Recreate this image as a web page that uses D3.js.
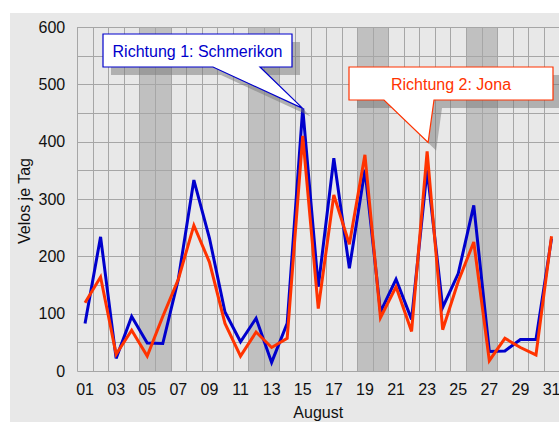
<!DOCTYPE html>
<html>
<head>
<meta charset="utf-8">
<script src="https://cdn.jsdelivr.net/npm/d3@7"></script>
<style>
  body { margin: 0; background: #fff; }
  svg { display: block; font-family: "Liberation Sans", Arial, sans-serif; }
</style>
</head>
<body>
<svg width="559" height="422"></svg>
<script>
// Data
const days = d3.range(1, 32).map(d => String(d).padStart(2, "0"));
const weekend = ["05", "06", "12", "13", "19", "20", "26", "27"];
const schmerikon = [83, 234, 22, 95, 49, 48, 160, 333, 232, 103, 51, 92, 15, 83, 458, 147, 371, 179, 351, 103, 160, 90, 351, 111, 170, 289, 34, 35, 55, 55, 231];
const jona = [119, 164, 29, 71, 26, 95, 160, 254, 190, 83, 26, 68, 41, 57, 410, 109, 307, 221, 377, 93, 147, 69, 383, 72, 156, 225, 18, 57, 41, 28, 235];
const yTicks = [0, 100, 200, 300, 400, 500, 600];
const xTickLabels = days.filter((d, i) => i % 2 === 0);

const svg = d3.select("svg");
const width = +svg.attr("width");
const height = +svg.attr("height");

// panel background
svg.append("rect")
  .attr("x", 10).attr("y", 13)
  .attr("width", width - 10).attr("height", height - 13)
  .attr("fill", "#e8e8e8");

const x = d3.scaleBand().domain(days).range([77.25, 77.25 + 31 * 15.55]).padding(0);
const y = d3.scaleLinear().domain([0, 600]).range([371, 27]);
const cx = d => x(d) + x.bandwidth() / 2;

// weekend bands
svg.append("g").selectAll("rect")
  .data(weekend)
  .join("rect")
  .attr("x", d => x(d))
  .attr("y", y(600))
  .attr("width", x.bandwidth() + 0.5)
  .attr("height", y(0) - y(600))
  .attr("fill", "#c0c0c0");

// grid
const grid = svg.append("g").attr("stroke", "#a6a6a6").attr("stroke-width", 1);
grid.selectAll(".h")
  .data(d3.range(0, 601, 50))
  .join("line")
  .attr("x1", x.range()[0]).attr("x2", x.range()[1])
  .attr("y1", d => Math.round(y(d)) + 0.5).attr("y2", d => Math.round(y(d)) + 0.5);
grid.selectAll(".v")
  .data(days)
  .join("line")
  .attr("x1", d => Math.round(x(d)) + 0.5).attr("x2", d => Math.round(x(d)) + 0.5)
  .attr("y1", y(600)).attr("y2", y(0));

// axes
const yAxis = svg.append("g")
  .attr("transform", `translate(${x.range()[0]},0)`)
  .call(d3.axisLeft(y).tickValues(yTicks).tickSize(0).tickPadding(12));
yAxis.select(".domain").remove();
yAxis.selectAll("text").attr("font-size", 16).attr("fill", "#111").attr("font-family", null);

const xAxis = svg.append("g")
  .attr("transform", `translate(0,${y(0)})`)
  .call(d3.axisBottom(x).tickValues(xTickLabels).tickSize(0).tickPadding(13));
xAxis.select(".domain").remove();
xAxis.selectAll("text").attr("font-size", 16).attr("fill", "#111").attr("font-family", null);

svg.append("text")
  .attr("x", (x.range()[0] + x.range()[1]) / 2)
  .attr("y", 418)
  .attr("text-anchor", "middle")
  .attr("font-size", 16)
  .attr("fill", "#111")
  .text("August");

svg.append("text")
  .attr("transform", `translate(30,${201}) rotate(-90)`)
  .attr("text-anchor", "middle")
  .attr("font-size", 16)
  .attr("fill", "#111")
  .text("Velos je Tag");

// lines
const line = d3.line()
  .x((d, i) => cx(days[i]))
  .y(d => y(d));

svg.append("path")
  .datum(schmerikon)
  .attr("fill", "none")
  .attr("stroke", "#0000cc")
  .attr("stroke-width", 3)
  .attr("d", line);

svg.append("path")
  .datum(jona)
  .attr("fill", "none")
  .attr("stroke", "#ff3300")
  .attr("stroke-width", 3)
  .attr("d", line);

// callouts
function callout(box, base, tip, color, label) {
  const [x0, y0, x1, y1] = box;
  const p = `M${x0},${y0}H${x1}V${y1}H${base[1]}L${tip[0]},${tip[1]}L${base[0]},${y1}H${x0}Z`;
  svg.append("path")
    .attr("d", p)
    .attr("transform", "translate(8,8)")
    .attr("fill", "#777")
    .attr("opacity", 0.5);
  svg.append("path")
    .attr("d", p)
    .attr("fill", "#fff")
    .attr("stroke", color)
    .attr("stroke-width", 1.2);
  svg.append("text")
    .attr("x", (x0 + x1) / 2)
    .attr("y", (y0 + y1) / 2 + 6)
    .attr("text-anchor", "middle")
    .attr("font-size", 16)
    .attr("fill", color)
    .text(label);
}

const i15 = days.indexOf("15");
const i23 = days.indexOf("23");
callout([103, 34, 292, 67], [213, 260], [cx("15"), y(schmerikon[i15])], "#0000cc", "Richtung 1: Schmerikon");
callout([349, 67, 553, 100], [384, 434], [cx("23") + 1, y(jona[i23]) - 9], "#ff3300", "Richtung 2: Jona");
</script>
</body>
</html>
